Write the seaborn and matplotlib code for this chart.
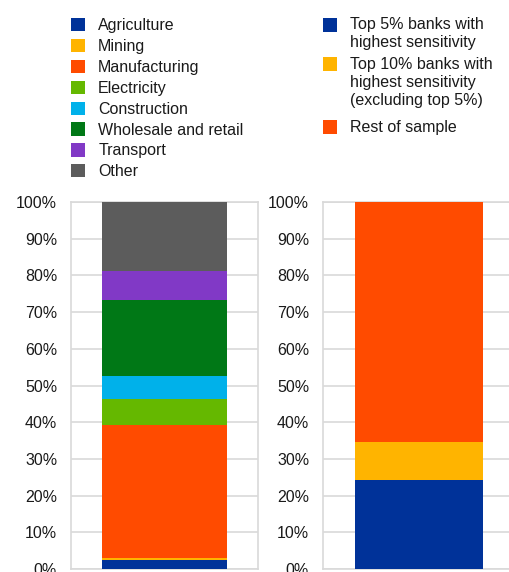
import numpy as np
import pandas as pd

import matplotlib.pyplot as plt
import seaborn as sns
from matplotlib.patches import Patch, Rectangle

# Left panel: sector breakdown (shares of total)
sectors = ['Agriculture', 'Mining', 'Manufacturing', 'Electricity',
           'Construction', 'Wholesale and retail', 'Transport', 'Other']
sector_shares = [0.024, 0.006, 0.362, 0.071, 0.063, 0.207, 0.079, 0.188]
sector_colors = ['#003299', '#FFB400', '#FF4B00', '#65B800',
                 '#00B1EA', '#007816', '#8139C6', '#5C5C5C']

# Right panel: bank groups
groups = ['Top 5% banks with\nhighest sensitivity',
          'Top 10% banks with\nhighest sensitivity\n(excluding top 5%)',
          'Rest of sample']
group_shares = [0.242, 0.103, 0.655]
group_colors = ['#003299', '#FFB400', '#FF4B00']

y_ticks = np.arange(0, 1.01, 0.1)
y_labels = [f'{int(round(t * 100))}%' for t in y_ticks]

sns.set_theme(style='white')
plt.rcParams['font.family'] = ['Liberation Sans', 'DejaVu Sans']

W, H = 509, 572
fig = plt.figure(figsize=(W / 100, H / 100), dpi=100)

grid_color = '#d9d9d9'
text_color = '#1a1a1a'
fs = 11.5


def stacked_bar(ax, shares, colors):
    cum = np.cumsum(shares)
    # draw from the tallest cumulative down so each segment sits on top
    for total, color in reversed(list(zip(cum, colors))):
        sns.barplot(x=[''], y=[total], color=color, width=0.67,
                    saturation=1, linewidth=0, edgecolor='none',
                    ax=ax, zorder=3)
    ax.set_ylim(0, 1)
    ax.set_yticks(y_ticks)
    ax.set_yticklabels(y_labels, fontsize=fs, color=text_color)
    ax.tick_params(axis='y', length=0, pad=10)
    ax.set_xticks([])
    ax.set_xlabel('')
    ax.set_ylabel('')
    ax.yaxis.grid(True, color=grid_color, linewidth=1.2, zorder=0)
    ax.set_axisbelow(True)
    for sp in ax.spines.values():
        sp.set_color(grid_color)
        sp.set_linewidth(1.2)


bottom = (H - 569) / H
height = (569 - 202) / H

ax1 = fig.add_axes([71 / W, bottom, 187 / W, height])
stacked_bar(ax1, sector_shares, sector_colors)

ax2 = fig.add_axes([323 / W, bottom, 192 / W, height])
stacked_bar(ax2, group_shares, group_colors)
ax2.spines['right'].set_visible(False)

# Left legend
h1 = [Patch(facecolor=c, edgecolor='none') for c in sector_colors]
leg1 = fig.legend(h1, sectors, loc='upper left',
                  bbox_to_anchor=(71 / W, 1 - 18 / H),
                  frameon=False, fontsize=fs, handlelength=0.9,
                  handleheight=0.9, handletextpad=0.8, labelspacing=0.36,
                  borderaxespad=0, borderpad=0)
for t in leg1.get_texts():
    t.set_color(text_color)

# Right legend: swatch aligned with the first line of each label
entry_top = [25, 64, 127]   # pixel row of the first line of each entry
line_step = 18
for label, color, y0 in zip(groups, group_colors, entry_top):
    fig.patches.append(Rectangle((323 / W, 1 - (y0 + 7) / H), 14 / W, 14 / H,
                                 transform=fig.transFigure,
                                 facecolor=color, edgecolor='none'))
    for k, line in enumerate(label.split('\n')):
        fig.text(350 / W, 1 - (y0 + k * line_step) / H, line,
                 fontsize=fs, color=text_color, va='center', ha='left')

fig.savefig('out.png', dpi=100)
